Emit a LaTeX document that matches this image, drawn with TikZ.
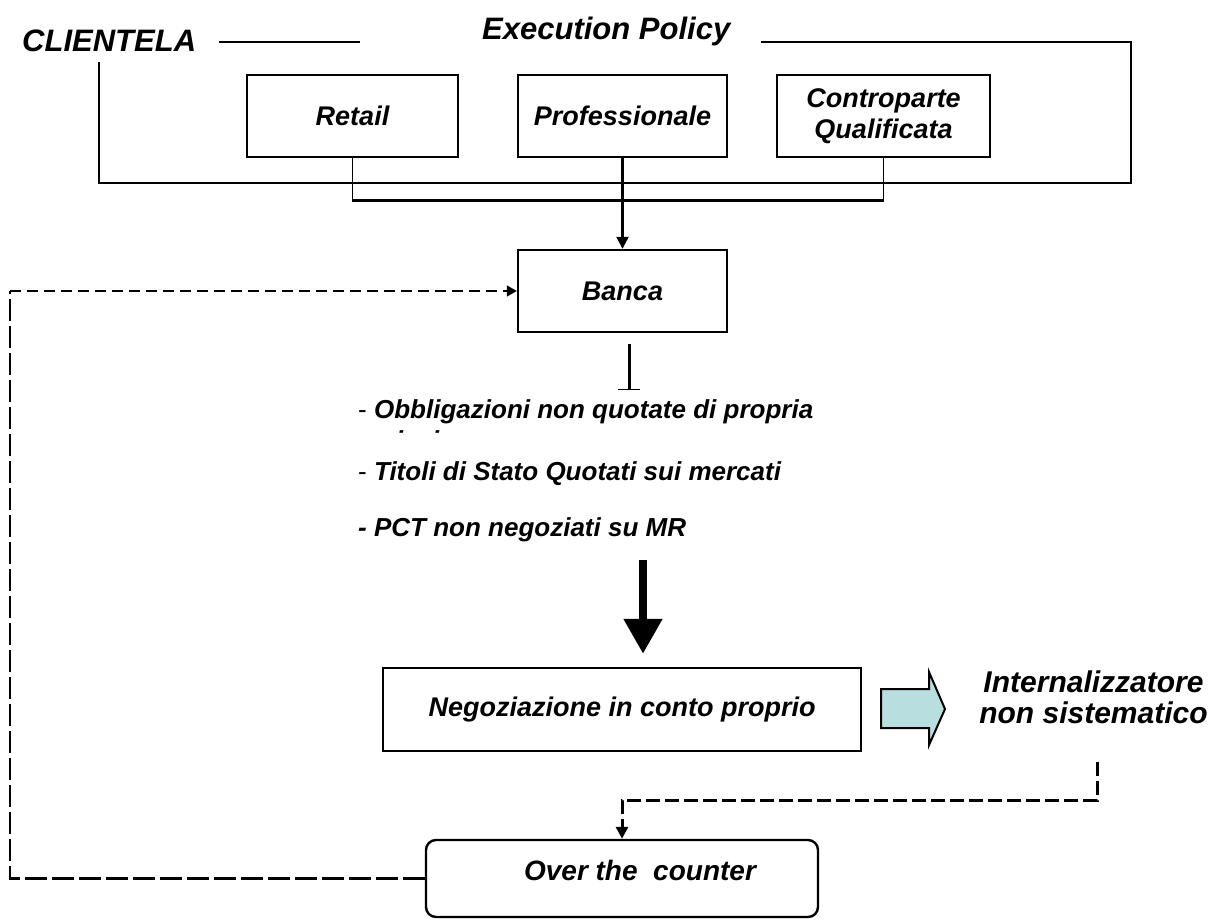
\documentclass[tikz,border=0pt]{standalone}
\usepackage{fontspec}
\setmainfont{Liberation Sans}
\usetikzlibrary{arrows.meta}
\definecolor{arrowfill}{RGB}{185,222,224}
\newcommand\fsz[2]{\fontsize{#1}{#2}\selectfont\bfseries\itshape}
\begin{document}
\begin{tikzpicture}[x=1pt,y=-1pt,
  box/.style={draw,line width=2.4pt,inner sep=0pt,font=\fsz{27}{31}},
  plain/.style={anchor=base west,inner sep=0pt},
  tri/.style={-{Triangle[length=12pt,width=12pt]}},
  frameline/.style={line width=2.4pt},
  dashthin/.style={line width=1.4pt,dash pattern=on 11pt off 6pt},
  dashvert/.style={line width=2.2pt,dash pattern=on 22pt off 5pt},
  dashthick/.style={line width=3pt,dash pattern=on 14pt off 5pt},
]
\useasboundingbox (0,0) rectangle (1217,920);
% titles
\node[plain,font=\fsz{31}{36}] (clientela) at (22,52) {CLIENTELA};
\node[plain,font=\fsz{31}{36}] (execpol) at (482,40) {Execution Policy};
% frame
\coordinate (f0) at (99,62);
\coordinate (f1) at (219,42);
\coordinate (f2) at (360,42);
\draw[frameline] (f1) -- (f2);
\draw[frameline] (f0) |- (1131,183) |- (761,42);
% client boxes
\node[box,minimum width=211,minimum height=82] (retail) at (352.5,116) {Retail};
\node[box,minimum width=209,minimum height=82] (prof) at (622.5,116) {Professionale};
\node[box,minimum width=213,minimum height=82,align=center] (contro) at (883.5,116) {Controparte\\Qualificata};
\node[box,minimum width=209,minimum height=82] (banca) at (622.5,291) {Banca};
\draw[line width=1.6pt] (retail.south) -- ++(0,43) -| (contro.south);
\draw[line width=2.8pt] (retail.south |- 0,200) -- (contro.south |- 0,200);
\draw[line width=2.2pt,tri] (prof.south) -- (banca.north);
% bar below Banca
\coordinate (bb) at (629,390);
\draw[line width=3pt,shorten <=11pt,-{Bar[width=22pt,line width=1.3pt]}] (banca.south -| bb) -- (bb);
% list
\node[plain,font=\fsz{26}{30}] (l1) at (358,418) {{\mdseries\upshape -} Obbligazioni non quotate di propria};
\begin{scope}
\clip (300,400) rectangle (900,432.5);
\node[plain,font=\fsz{26}{30}] (l1b) at (358,449) {emissione};
\end{scope}
\node[plain,font=\fsz{26}{30}] (l2) at (358,480) {{\mdseries\upshape -} Titoli di Stato Quotati sui mercati};
\node[plain,font=\fsz{26}{30}] (l3) at (358,536) {- PCT non negoziati su MR};
% negoziazione
\node[box,minimum width=478,minimum height=83] (nego) at (622,709.5) {Negoziazione in conto proprio};
\coordinate (bas) at (643,560);
\draw[line width=8pt,shorten >=13pt,-{Triangle[length=35pt,width=37pt]}] (bas) -- (bas |- nego.north);
% block arrow
\draw[line width=2pt,fill=arrowfill,line join=miter] (881,689) -- (929,689) -- (929,672) -- (945,709) -- (929,745) -- (929,728) -- (881,728) -- cycle;
\node[inner sep=0pt,align=center,font=\fsz{30}{31}] (intern) at (1093.5,697) {Internalizzatore\\non sistematico};
% over the counter
\node[draw,line width=2.4pt,rounded corners=10pt,minimum width=392,minimum height=77,inner sep=0pt] (otc) at (622,878.5) {};
\node[inner sep=0pt,font=\fsz{28}{32}] (otctext) at (640,870) {Over the~ counter};
% dashed connectors
\coordinate (ic) at (1097,762);
\draw[dashthick,tri] (ic) -- (1097,800) -| (otc.north);
\coordinate (lc) at (10,291);
\draw[dashvert] (otc.west) -| (lc);
\draw[dashthin,-{Triangle[length=10pt,width=11pt]}] (lc) -- (banca.west);
\end{tikzpicture}
\end{document}
